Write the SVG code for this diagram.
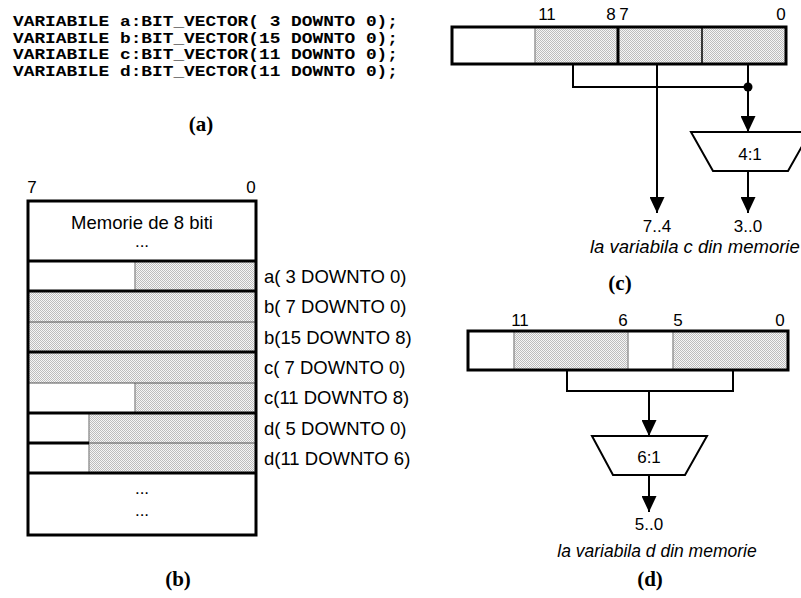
<svg xmlns="http://www.w3.org/2000/svg" width="801" height="598" viewBox="0 0 801 598">
<defs>
<pattern id="dots" width="2" height="2" patternUnits="userSpaceOnUse"><rect width="2" height="2" fill="#f6f6f6"/><rect width="1" height="1" fill="#bdbdbd"/><rect x="1" y="1" width="1" height="1" fill="#bdbdbd"/></pattern>
<marker id="arr" viewBox="0 0 16 15" refX="16" refY="7.5" markerWidth="16" markerHeight="15" markerUnits="userSpaceOnUse" orient="auto"><path d="M0,0 L16,7.5 L0,15 z" fill="#000"/></marker>
</defs>
<style>
.code{font-family:"Liberation Mono",monospace;font-weight:bold;font-size:15.5px;fill:#000}
.cap{font-family:"Liberation Serif",serif;font-weight:bold;font-size:21px;fill:#000;text-anchor:middle}
.lbl{font-family:"Liberation Sans",Arial,sans-serif;font-size:18.5px;fill:#000}
.bit{font-family:"Liberation Sans",Arial,sans-serif;font-size:17px;fill:#000;text-anchor:middle}
.mid{font-family:"Liberation Sans",Arial,sans-serif;font-size:17px;fill:#000;text-anchor:middle}
.it{font-family:"Liberation Sans",Arial,sans-serif;font-size:17.5px;font-style:italic;fill:#000}
.sh{fill:url(#dots)}
.wh{fill:#fff}
.thick{stroke:#000;stroke-width:3;fill:none}
.thin{stroke:#555;stroke-width:1;fill:none}
.gray{stroke:#999;stroke-width:1.5;fill:none}
.wire{stroke:#000;stroke-width:2;fill:none}
.mux{stroke:#000;stroke-width:2;fill:#fff}
</style>

<g id="panel-a">
<text class="code" x="13" y="26" textLength="385" lengthAdjust="spacingAndGlyphs">VARIABILE a:BIT_VECTOR( 3 DOWNTO 0);</text>
<text class="code" x="13" y="42.5" textLength="385" lengthAdjust="spacingAndGlyphs">VARIABILE b:BIT_VECTOR(15 DOWNTO 0);</text>
<text class="code" x="13" y="59" textLength="385" lengthAdjust="spacingAndGlyphs">VARIABILE c:BIT_VECTOR(11 DOWNTO 0);</text>
<text class="code" x="13" y="75.5" textLength="385" lengthAdjust="spacingAndGlyphs">VARIABILE d:BIT_VECTOR(11 DOWNTO 0);</text>
<text class="cap" x="201" y="131">(a)</text>
</g>

<g id="panel-b">
<text class="bit" x="32" y="193">7</text>
<text class="bit" x="251" y="193">0</text>
<g id="mem-top">
<rect class="wh" x="28" y="201" width="228" height="60"/>
<text class="lbl" x="142" y="229" text-anchor="middle">Memorie de 8 biti</text>
<text class="mid" x="142" y="247">...</text>
</g>
<g id="row-a">
<rect class="wh" x="28" y="261" width="107" height="30"/>
<rect class="sh" x="135" y="261" width="121" height="30"/>
<line class="gray" x1="135" y1="261" x2="135" y2="291"/>
<text class="lbl" x="264" y="282.5">a( 3 DOWNTO 0)</text>
</g>
<g id="row-b7">
<rect class="sh" x="28" y="291" width="228" height="31"/>
<text class="lbl" x="264" y="313">b( 7 DOWNTO 0)</text>
</g>
<g id="row-b15">
<rect class="sh" x="28" y="322" width="228" height="30"/>
<text class="lbl" x="264" y="343.5">b(15 DOWNTO 8)</text>
</g>
<g id="row-c7">
<rect class="sh" x="28" y="352" width="228" height="31"/>
<text class="lbl" x="264" y="374">c( 7 DOWNTO 0)</text>
</g>
<g id="row-c11">
<rect class="wh" x="28" y="383" width="107" height="30"/>
<rect class="sh" x="135" y="383" width="121" height="30"/>
<line class="gray" x1="135" y1="383" x2="135" y2="413"/>
<text class="lbl" x="264" y="404">c(11 DOWNTO 8)</text>
</g>
<g id="row-d5">
<rect class="wh" x="28" y="413" width="61" height="30"/>
<rect class="sh" x="89" y="413" width="167" height="30"/>
<line class="gray" x1="89" y1="413" x2="89" y2="443"/>
<text class="lbl" x="264" y="435">d( 5 DOWNTO 0)</text>
</g>
<g id="row-d11">
<rect class="wh" x="28" y="443" width="61" height="30"/>
<rect class="sh" x="89" y="443" width="167" height="30"/>
<line class="gray" x1="89" y1="443" x2="89" y2="473"/>
<text class="lbl" x="264" y="465">d(11 DOWNTO 6)</text>
</g>
<g id="mem-bottom">
<rect class="wh" x="28" y="473" width="228" height="62"/>
<text class="mid" x="142" y="494">...</text>
<text class="mid" x="142" y="516">...</text>
</g>
<g id="mem-lines">
<line class="thin" x1="28" y1="322" x2="256" y2="322"/>
<line class="thin" x1="28" y1="383" x2="256" y2="383"/>
<line class="thin" x1="89" y1="443" x2="256" y2="443"/>
<line class="thick" x1="28" y1="443" x2="89" y2="443"/>
<line class="thick" x1="28" y1="261" x2="256" y2="261"/>
<line class="thick" x1="28" y1="291" x2="256" y2="291"/>
<line class="thick" x1="28" y1="352" x2="256" y2="352"/>
<line class="thick" x1="28" y1="413" x2="256" y2="413"/>
<line class="thick" x1="28" y1="473" x2="256" y2="473"/>
<rect class="thick" x="28" y="201" width="228" height="334"/>
</g>
<text class="cap" x="178" y="586">(b)</text>
</g>

<g id="panel-c">
<g id="reg-c">
<text class="bit" x="547" y="20">11</text>
<text class="bit" x="611" y="20">8</text>
<text class="bit" x="624" y="20">7</text>
<text class="bit" x="781" y="20">0</text>
<rect class="wh" x="452" y="27" width="83" height="37"/>
<rect class="sh" x="535" y="27" width="251" height="37"/>
<line class="gray" x1="535" y1="27" x2="535" y2="64"/>
<line class="thick" x1="618" y1="27" x2="618" y2="64"/>
<line stroke="#000" stroke-width="1.5" x1="702" y1="27" x2="702" y2="64"/>
<rect class="thick" x="452" y="27" width="334" height="37"/>
</g>
<g id="mux-c">
<polygon class="mux" points="691,132 810,132 788,171 713,171"/>
<text class="mid" x="750" y="160">4:1</text>
</g>
<text class="mid" x="657" y="232">7..4</text>
<text class="mid" x="748" y="232">3..0</text>
<text class="it" x="590" y="253" style="font-size:18.5px">la variabila c din memorie</text>
<text class="cap" x="620" y="290">(c)</text>
</g>

<g id="panel-d">
<g id="reg-d">
<text class="bit" x="520" y="326">11</text>
<text class="bit" x="623" y="326">6</text>
<text class="bit" x="678" y="326">5</text>
<text class="bit" x="780" y="326">0</text>
<rect class="wh" x="468" y="331" width="46" height="39"/>
<rect class="sh" x="514" y="331" width="114" height="39"/>
<rect class="wh" x="628" y="331" width="45" height="39"/>
<rect class="sh" x="673" y="331" width="115" height="39"/>
<line class="gray" x1="514" y1="331" x2="514" y2="370"/>
<line class="gray" x1="628" y1="331" x2="628" y2="370"/>
<line class="gray" x1="673" y1="331" x2="673" y2="370"/>
<rect class="thick" x="468" y="331" width="320" height="39"/>
</g>
<g id="mux-d">
<polygon class="mux" points="592,436 707,436 685,475 613,475"/>
<text class="mid" x="649" y="463">6:1</text>
</g>
<text class="mid" x="649" y="530">5..0</text>
<text class="it" x="657" y="557" text-anchor="middle">la variabila d din memorie</text>
<text class="cap" x="650" y="586">(d)</text>
</g>

<g id="connectors">
<path class="wire" d="M573,65 V87 H748"/>
<path class="wire" d="M748,65 V132" marker-end="url(#arr)"/>
<circle cx="748" cy="87" r="4.5" fill="#000"/>
<path class="wire" d="M657,65 V213" marker-end="url(#arr)"/>
<path class="wire" d="M748,171 V213" marker-end="url(#arr)"/>
<path class="wire" d="M567,371 V391 H733 V371"/>
<path class="wire" d="M649,391 V436" marker-end="url(#arr)"/>
<path class="wire" d="M649,475 V512" marker-end="url(#arr)"/>
</g>
</svg>
